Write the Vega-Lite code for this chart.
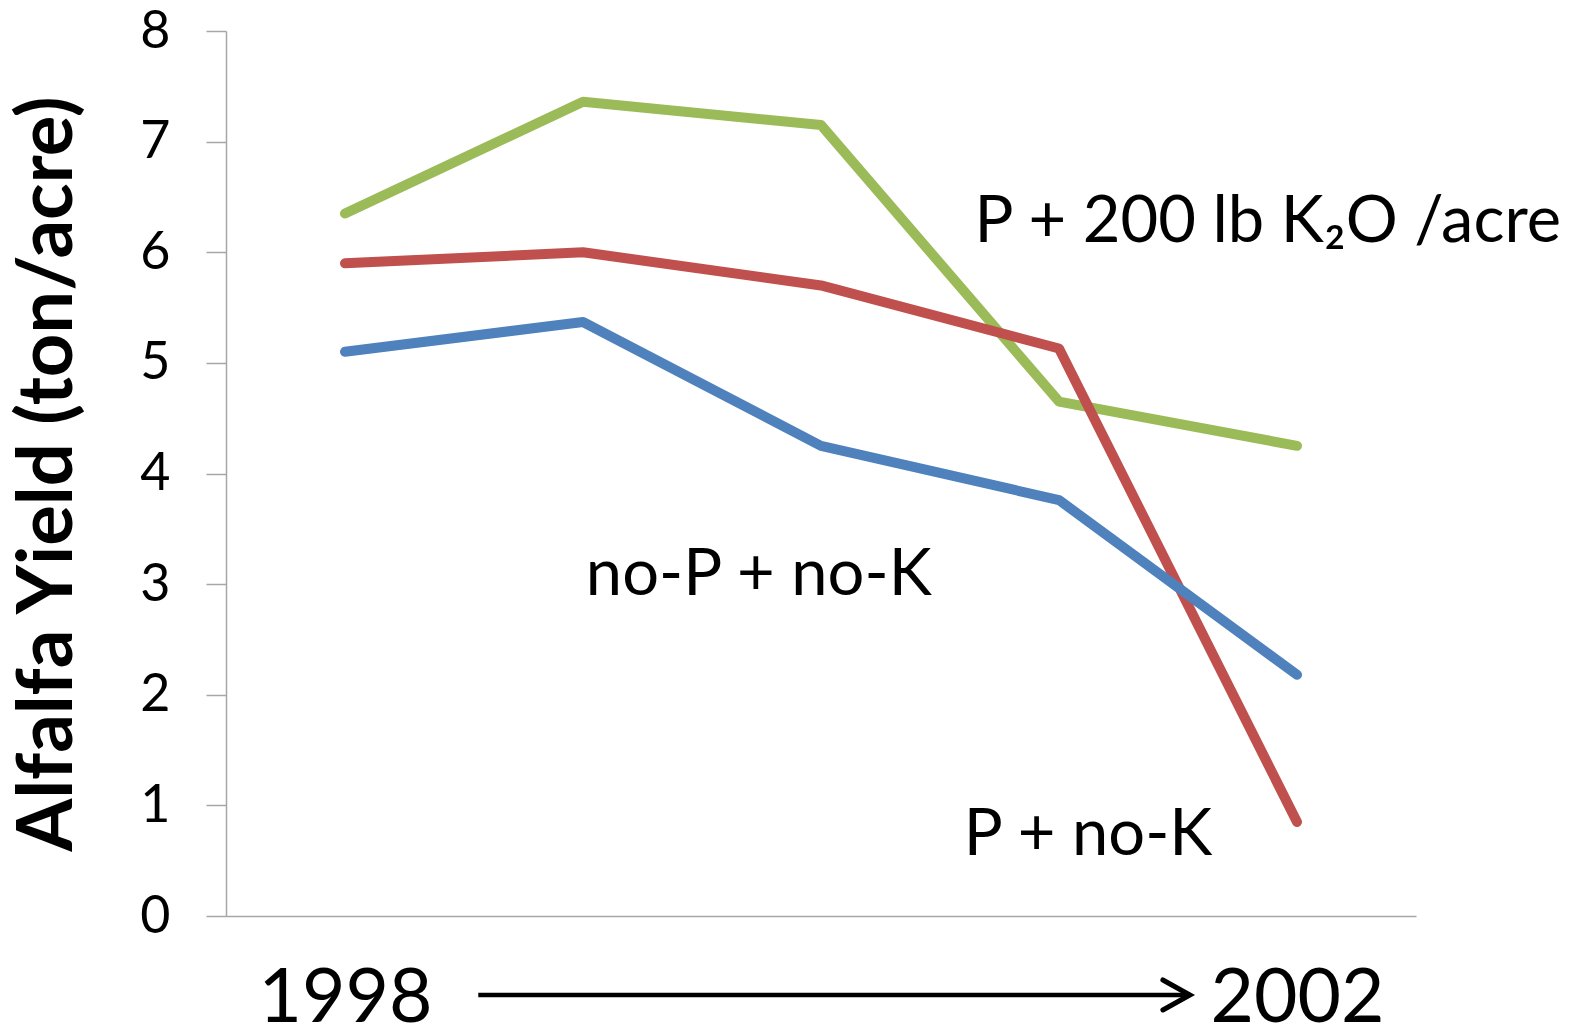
{
  "$schema": "https://vega.github.io/schema/vega-lite/v6.json",
  "autosize": "none",
  "width": 1190,
  "height": 885,
  "padding": {"left": 226, "top": 31, "right": 165, "bottom": 113},
  "background": "white",
  "config": {"view": {"stroke": null}, "font": "Lato"},
  "datasets": {
    "yields": [
      {"series": "P + 200 lb K2O", "year": 1998, "yield": 6.35},
      {"series": "P + 200 lb K2O", "year": 1999, "yield": 7.36},
      {"series": "P + 200 lb K2O", "year": 2000, "yield": 7.15},
      {"series": "P + 200 lb K2O", "year": 2001, "yield": 4.65},
      {"series": "P + 200 lb K2O", "year": 2002, "yield": 4.25},
      {"series": "P + no-K", "year": 1998, "yield": 5.9},
      {"series": "P + no-K", "year": 1999, "yield": 6.0},
      {"series": "P + no-K", "year": 2000, "yield": 5.7},
      {"series": "P + no-K", "year": 2001, "yield": 5.13},
      {"series": "P + no-K", "year": 2002, "yield": 0.85},
      {"series": "no-P + no-K", "year": 1998, "yield": 5.1},
      {"series": "no-P + no-K", "year": 1999, "yield": 5.37},
      {"series": "no-P + no-K", "year": 2000, "yield": 4.25},
      {"series": "no-P + no-K", "year": 2001, "yield": 3.76},
      {"series": "no-P + no-K", "year": 2002, "yield": 2.18}
    ],
    "notes": [
      {"label": "P + 200 lb K₂O /acre", "year": 2000.645, "yield": 6.09},
      {"label": "no-P + no-K", "year": 1999.012, "yield": 2.9},
      {"label": "P + no-K", "year": 2000.6, "yield": 0.55}
    ],
    "timeline": [
      {"year": 1998.56, "year2": 2001.55, "yield": -0.714}
    ]
  },
  "layer": [
    {
      "data": {"name": "yields"},
      "mark": {"type": "line", "strokeWidth": 10, "strokeCap": "round", "strokeJoin": "round"},
      "encoding": {
        "x": {
          "field": "year", "type": "quantitative",
          "scale": {"domain": [1997.5, 2002.5], "nice": false, "zero": false},
          "axis": {
            "title": null, "values": [1998, 2002], "format": "d",
            "ticks": false, "grid": false,
            "domainColor": "#a6a6a6", "domainWidth": 1.5,
            "labelFontSize": 75, "labelColor": "black", "labelPadding": 46,
            "labelFont": "Lato", "labelFlush": false, "labelOverlap": false
          }
        },
        "y": {
          "field": "yield", "type": "quantitative",
          "scale": {"domain": [0, 8], "nice": false},
          "axis": {
            "title": "Alfalfa Yield (ton/acre)",
            "values": [0, 1, 2, 3, 4, 5, 6, 7, 8],
            "format": "d",
            "grid": false,
            "domainColor": "#a6a6a6", "domainWidth": 1.5,
            "tickColor": "#a6a6a6", "tickWidth": 1.5, "tickSize": 20,
            "labelFontSize": 52, "labelColor": "black", "labelPadding": 36,
            "labelFont": "Lato",
            "titleFont": "Lato", "titleFontSize": 76, "titleFontWeight": "bold",
            "titleColor": "black", "titlePadding": 52
          }
        },
        "color": {
          "field": "series", "type": "nominal", "legend": null,
          "scale": {
            "domain": ["P + 200 lb K2O", "P + no-K", "no-P + no-K"],
            "range": ["#9bbb59", "#c0504d", "#4f81bd"]
          }
        }
      }
    },
    {
      "data": {"name": "notes"},
      "mark": {"type": "text", "align": "left", "baseline": "alphabetic", "fontSize": 65, "font": "Lato", "color": "black"},
      "encoding": {
        "x": {"field": "year", "type": "quantitative"},
        "y": {"field": "yield", "type": "quantitative"},
        "text": {"field": "label"}
      }
    },
    {
      "data": {"name": "timeline"},
      "mark": {"type": "rule", "strokeWidth": 4.5, "color": "black", "clip": false},
      "encoding": {
        "x": {"field": "year", "type": "quantitative"},
        "x2": {"field": "year2"},
        "y": {"field": "yield", "type": "quantitative"}
      }
    },
    {
      "data": {"name": "timeline"},
      "mark": {"type": "point", "shape": "M-1.8,-1L0,0L-1.8,1", "filled": false, "size": 900, "strokeWidth": 5, "color": "black", "opacity": 1, "strokeJoin": "miter", "strokeCap": "round", "clip": false},
      "encoding": {
        "x": {"field": "year2", "type": "quantitative"},
        "y": {"field": "yield", "type": "quantitative"}
      }
    }
  ]
}
